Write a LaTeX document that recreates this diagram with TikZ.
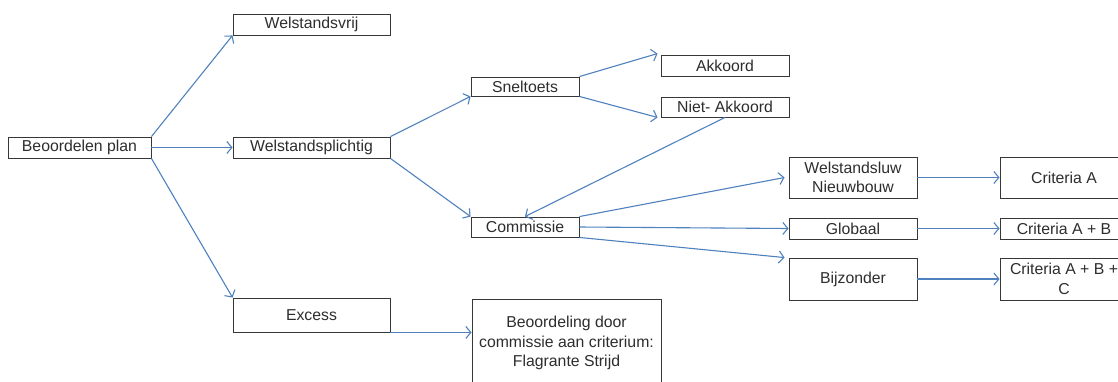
\documentclass[tikz,border=0pt]{standalone}
\usepackage{fontspec}
\setmainfont{Liberation Sans}
\usetikzlibrary{arrows.meta}
\definecolor{pijlblauw}{RGB}{79,129,189}
\definecolor{kader}{RGB}{55,55,55}
\definecolor{tekst}{RGB}{45,45,45}
\tikzset{
    blok/.style={draw=kader,line width=0.9pt,text=tekst,align=center,inner sep=0pt,
        font=\fontsize{15.8}{19.5}\selectfont},
    pijl/.style={draw=pijlblauw,line width=1.1pt,
        -{Straight Barb[length=5pt,width=12pt,line width=1.1pt]}}
}

\begin{document}
\begin{tikzpicture}[x=1pt,y=-1pt]
                    \clip (0,0) rectangle (1118,381);

                    \node[blok,minimum width=143pt,minimum height=21pt] (plan) at (79.5,147.5) {Beoordelen plan};
                    \node[blok,minimum width=157pt,minimum height=21pt] (vrij) at (311.5,24.5) {Welstandsvrij};
                    \node[blok,minimum width=157pt,minimum height=21pt] (plicht) at (311.5,147.5) {Welstandsplichtig};
                    \node[blok,minimum width=157pt,minimum height=34pt] (excess) at (311.5,315) {Excess};
                    \node[blok,minimum width=189pt,minimum height=88pt] (flagrant) at (566.5,343)
                        {Beoordeling door\\commissie aan criterium:\\Flagrante Strijd};

                    \node[blok,minimum width=108pt,minimum height=19pt] (snel) at (525,86.5) {Sneltoets};
                    \node[blok,minimum width=108pt,minimum height=20pt] (comm) at (525,227) {Commissie};
                    \node[blok,minimum width=128pt,minimum height=21pt] (akk) at (725,65.5) {Akkoord};
                    \node[blok,minimum width=128pt,minimum height=20pt] (nietakk) at (725,107) {Niet- Akkoord};

                    \node[blok,minimum width=128pt,minimum height=41pt] (luw) at (853,177.5) {Welstandsluw\\Nieuwbouw};
                    \node[blok,minimum width=128pt,minimum height=21pt] (glob) at (853,228.5) {Globaal};
                    \node[blok,minimum width=128pt,minimum height=42pt] (bijz) at (853,279) {Bijzonder};
                    \node[blok,minimum width=128pt,minimum height=41pt] (critA) at (1064,177.5) {Criteria A};
                    \node[blok,minimum width=128pt,minimum height=21pt] (critAB) at (1064,228.5) {Criteria A + B};
                    \node[blok,minimum width=128pt,minimum height=42pt] (critABC) at (1064,279) {Criteria A + B +\\C};

                    \draw[pijl] (plan.north east) -- (vrij.south west);
                    \draw[pijl] (plan.east) -- (plicht.west);
                    \draw[pijl] (plan.south east) -- (excess.north west);
                    \draw[pijl] (plicht.north east) -- (snel.south west);
                    \draw[pijl] (plicht.south east) -- (comm.north west);
                    \draw[pijl] (snel.north east) -- ([xshift=-3pt,yshift=1pt]akk.north west);
                    \draw[pijl] (snel.south east) -- ([xshift=-3pt]nietakk.south west);
                    \draw[pijl] (nietakk.south) -- (comm.north);
                    \draw[pijl] (comm.north east) -- ([xshift=-4pt]luw.west);
                    \draw[pijl] (comm.east) -- (glob.west);
                    \draw[pijl] (comm.south east) -- ([xshift=-4pt]bijz.north west);
                    \draw[pijl] (luw.east) -- (critA.west);
                    \draw[pijl] (glob.east) -- (critAB.west);
                    \draw[pijl] (bijz.east) -- (critABC.west);
                    \draw[pijl] (excess.south east) -- (excess.south east -| flagrant.west);
\end{tikzpicture}
\end{document}
